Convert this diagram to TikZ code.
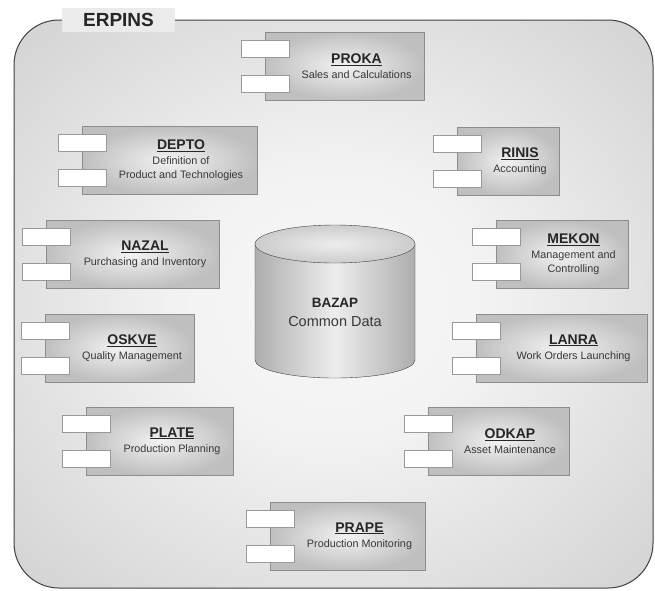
\documentclass[tikz,border=0pt]{standalone}
\usepackage{fontspec}
\setmainfont{Liberation Sans}
\usepackage{tikz}
\usetikzlibrary{positioning}

\newcommand{\modtitle}[1]{{\fontsize{14}{16}\selectfont\bfseries\color{black!85}\underline{#1}}}
\pgfdeclareradialshading{systemfade}{\pgfpoint{0bp}{0bp}}{%
    color(0bp)=(black!3); color(12bp)=(black!5); color(42bp)=(black!21); color(80bp)=(black!22)}

\begin{document}
\begin{tikzpicture}[x=1pt, y=-1pt,
        modbox/.style={draw=boxline, inner color=boxlight, outer color=boxdark,
            minimum height=68pt, inner sep=0pt},
        port/.style={draw=portline, fill=white, minimum width=48pt,
            minimum height=17pt, inner sep=0pt},
        modtext/.style={align=center, text=textgray, inner sep=0pt,
            font=\fontsize{10.8}{14}\selectfont}]
        % Define colors for the system parts
        \definecolor{framedark}{gray}{0.25}  % Outer border
        \definecolor{tabgray}{gray}{0.92}
        \definecolor{boxline}{gray}{0.55}
        \definecolor{boxlight}{gray}{0.95}
        \definecolor{boxdark}{gray}{0.75}
        \definecolor{portline}{gray}{0.6}
        \definecolor{textgray}{gray}{0.22}
        \definecolor{cylside}{gray}{0.68}
        \definecolor{cylmid}{gray}{0.93}
        \definecolor{cyltop}{gray}{0.8}

        \useasboundingbox (0,0) rectangle (655,590);

        % System frame with its name tab
        \draw[framedark, line width=1pt, shading=systemfade,
            rounded corners=45pt] (14,20) rectangle (653,588);
        \node[fill=tabgray, minimum width=113pt, minimum height=24pt, inner sep=0pt,
            font=\fontsize{19}{22}\selectfont\bfseries, text=black!85] (erpins) at (118.5,20) {ERPINS};

        % Common database in the middle
        \shade[draw=framedark, left color=cylside, right color=cylside, middle color=cylmid]
            (255,244) -- (255,360) arc[start angle=180, end angle=360, x radius=80pt, y radius=18pt]
            -- (415,244) -- cycle;
        \draw[framedark, inner color=cylmid, outer color=cyltop]
            (335,244) ellipse[x radius=80pt, y radius=19pt];
        \node[align=center, text=textgray, font=\fontsize{14.5}{19}\selectfont] (bazap) at (335,312)
            {{\fontsize{13.5}{16}\selectfont\bfseries\color{black!85}BAZAP}\\Common Data};

        % Sales and calculations
        \node[modbox, minimum width=159pt] (proka) at (344.5,66) {};
        \node[port, below=8pt of proka.north west] (proka-a) {};
        \node[port, above=8pt of proka.south west] (proka-b) {};
        \node[modtext] (proka-t) at (356.5,66) {\modtitle{PROKA}\\[1pt]Sales and Calculations};

        % Product definition
        \node[modbox, minimum width=175pt] (depto) at (169.5,160.5) {};
        \node[port, below=8pt of depto.north west] (depto-a) {};
        \node[port, above=8pt of depto.south west] (depto-b) {};
        \node[modtext] (depto-t) at (181,160.5) {\modtitle{DEPTO}\\[1pt]Definition of\\Product and Technologies};

        % Accounting
        \node[modbox, minimum width=102pt] (rinis) at (508,161) {};
        \node[port, below=8pt of rinis.north west] (rinis-a) {};
        \node[port, above=8pt of rinis.south west] (rinis-b) {};
        \node[modtext] (rinis-t) at (520,161) {\modtitle{RINIS}\\[1pt]Accounting};

        % Management and controlling
        \node[modbox, minimum width=132pt] (mekon) at (562,254.5) {};
        \node[port, below=8pt of mekon.north west] (mekon-a) {};
        \node[port, above=8pt of mekon.south west] (mekon-b) {};
        \node[modtext] (mekon-t) at (573.5,254.5) {\modtitle{MEKON}\\[1pt]Management and\\Controlling};

        % Purchasing
        \node[modbox, minimum width=173pt] (nazal) at (132.5,254.5) {};
        \node[port, below=8pt of nazal.north west] (nazal-a) {};
        \node[port, above=8pt of nazal.south west] (nazal-b) {};
        \node[modtext] (nazal-t) at (145,254.5) {\modtitle{NAZAL}\\[1pt]Purchasing and Inventory};

        % Quality
        \node[modbox, minimum width=149pt] (oskve) at (119.5,348) {};
        \node[port, below=8pt of oskve.north west] (oskve-a) {};
        \node[port, above=8pt of oskve.south west] (oskve-b) {};
        \node[modtext] (oskve-t) at (132,348) {\modtitle{OSKVE}\\[1pt]Quality Management};

        % Work orders
        \node[modbox, minimum width=171pt] (lanra) at (561.5,348) {};
        \node[port, below=8pt of lanra.north west] (lanra-a) {};
        \node[port, above=8pt of lanra.south west] (lanra-b) {};
        \node[modtext] (lanra-t) at (573.5,348) {\modtitle{LANRA}\\[1pt]Work Orders Launching};

        % Planning
        \node[modbox, minimum width=147pt] (plate) at (159.5,441) {};
        \node[port, below=8pt of plate.north west] (plate-a) {};
        \node[port, above=8pt of plate.south west] (plate-b) {};
        \node[modtext] (plate-t) at (172,441) {\modtitle{PLATE}\\[1pt]Production Planning};

        % Maintenance
        \node[modbox, minimum width=141pt] (odkap) at (498.5,441) {};
        \node[port, below=8pt of odkap.north west] (odkap-a) {};
        \node[port, above=8pt of odkap.south west] (odkap-b) {};
        \node[modtext] (odkap-t) at (510,441) {\modtitle{ODKAP}\\[1pt]Asset Maintenance};

        % Monitoring
        \node[modbox, minimum width=155pt] (prape) at (347.5,536) {};
        \node[port, below=8pt of prape.north west] (prape-a) {};
        \node[port, above=8pt of prape.south west] (prape-b) {};
        \node[modtext] (prape-t) at (359.5,536) {\modtitle{PRAPE}\\[1pt]Production Monitoring};
\end{tikzpicture}
\end{document}
